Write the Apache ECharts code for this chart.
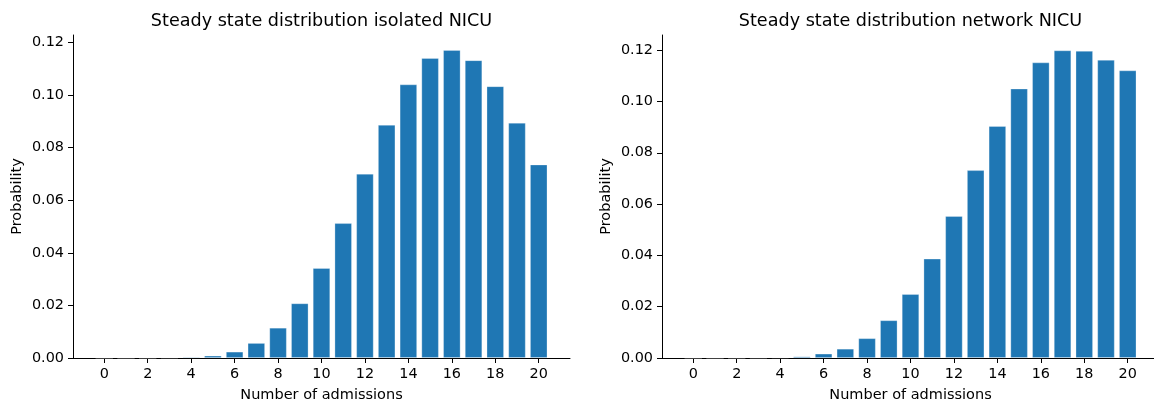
<!DOCTYPE html>
<html>
<head>
<meta charset="utf-8">
<script src="https://cdn.jsdelivr.net/npm/echarts@6/dist/echarts.min.js"></script>
<style>
html,body{margin:0;padding:0;background:#fff;}
#chart{width:1154px;height:406px;}
</style>
</head>
<body>
<div id="chart"></div>
<script>
// ---- data ----
const admissions = [0,1,2,3,4,5,6,7,8,9,10,11,12,13,14,15,16,17,18,19,20];
const isolatedProb = [0.0000,0.0000,0.00001,0.0001,0.0004,0.0009,0.0024,0.0057,0.0115,0.0208,0.0342,0.0513,0.0701,0.0887,0.1041,0.1141,0.1172,0.1133,0.1034,0.0895,0.0736];
const networkProb = [0.0000,0.0000,0.00001,0.00005,0.0002,0.0006,0.0017,0.0036,0.0077,0.0147,0.0249,0.0387,0.0553,0.0732,0.0904,0.1050,0.1152,0.1199,0.1197,0.1162,0.1121];
const xTickLabels = [0,2,4,6,8,10,12,14,16,18,20];
const yTickLabels = [0.00,0.02,0.04,0.06,0.08,0.10,0.12];
const titles = ['Steady state distribution isolated NICU','Steady state distribution network NICU'];
const xName = 'Number of admissions';
const yName = 'Probability';

// ---- layout/style ----
const FONT = 'DejaVu Sans';
const TXT = '#000';
const BAR = '#1f77b4';
const grids = [
  {left: 73, top: 35, width: 497, height: 323},
  {left: 662, top: 35, width: 497, height: 323}
];
const yMaxes = [0.1229, 0.1259];
const xMin = -1.44, xMax = 21.44;

function pairs(vals){ return admissions.map((a,i)=>[a, vals[i]]); }

const option = {
  animation: false,
  backgroundColor: '#fff',
  title: titles.map((t,i)=>({
    text: t,
    left: grids[i].left + grids[i].width/2,
    top: 12,
    padding: 0,
    textAlign: 'center',
    textStyle: {fontFamily: FONT, fontSize: 17.6, fontWeight: 'normal', color: TXT}
  })),
  grid: grids.map(g=>Object.assign({containLabel:false, outerBoundsMode:'none'}, g)),
  xAxis: grids.map((g,i)=>({
    type: 'value', gridIndex: i, min: xMin, max: xMax,
    name: xName, nameLocation: 'middle', nameGap: 30,
    nameTextStyle: {fontFamily: FONT, fontSize: 14.5, color: TXT},
    axisLine: {show: true, onZero: false, lineStyle: {color: '#000', width: 1}},
    axisTick: {show: true, length: 5, lineStyle: {color: '#000', width: 1}, customValues: xTickLabels},
    axisLabel: {fontFamily: FONT, fontSize: 14.4, color: TXT, margin: 9, customValues: xTickLabels, formatter: v=>String(v)},
    splitLine: {show: false}
  })),
  yAxis: grids.map((g,i)=>({
    type: 'value', gridIndex: i, min: 0, max: yMaxes[i],
    name: yName, nameLocation: 'middle', nameGap: 48,
    nameTextStyle: {fontFamily: FONT, fontSize: 14.5, color: TXT},
    axisLine: {show: true, onZero: false, lineStyle: {color: '#000', width: 1}},
    axisTick: {show: true, length: 5, lineStyle: {color: '#000', width: 1}, customValues: yTickLabels},
    axisLabel: {fontFamily: FONT, fontSize: 14.4, color: TXT, margin: 9, customValues: yTickLabels, formatter: v=>v.toFixed(2)},
    splitLine: {show: false}
  })),
  series: [isolatedProb, networkProb].map((vals,i)=>({
    type: 'bar', xAxisIndex: i, yAxisIndex: i,
    data: pairs(vals),
    barWidth: '80%',
    itemStyle: {color: BAR, borderColor: 'rgba(255,255,255,0.35)', borderWidth: 0.8}
  }))
};

const chart = echarts.init(document.getElementById('chart'), null, {renderer: 'canvas'});
chart.setOption(option);
</script>
</body>
</html>
